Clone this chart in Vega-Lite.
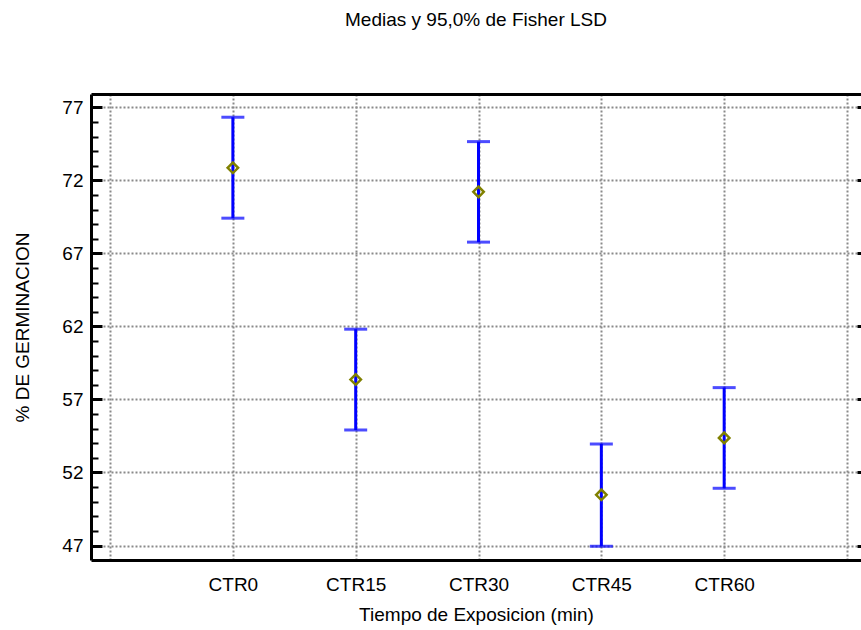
{
  "$schema": "https://vega.github.io/schema/vega-lite/v6.json",
  "autosize": "none",
  "padding": {"left": 91, "top": 94, "right": 0, "bottom": 70},
  "width": 770,
  "height": 466,
  "title": {"text": "Medias y 95,0% de Fisher LSD", "fontSize": 19, "font": "Liberation Sans", "fontWeight": "normal", "anchor": "middle", "baseline": "alphabetic", "offset": 49, "color": "black"},
  "config": {"view": {"stroke": null}, "font": "Liberation Sans"},
  "data": {"values": [
    {"group": "CTR0", "pos": 1, "mean": 72.86, "lower": 69.41, "upper": 76.32},
    {"group": "CTR15", "pos": 2, "mean": 58.36, "lower": 54.91, "upper": 61.81},
    {"group": "CTR30", "pos": 3, "mean": 71.21, "lower": 67.77, "upper": 74.65},
    {"group": "CTR45", "pos": 4, "mean": 50.47, "lower": 46.95, "upper": 53.95},
    {"group": "CTR60", "pos": 5, "mean": 54.37, "lower": 50.92, "upper": 57.81}
  ]},
  "layer": [
    {
      "mark": {"type": "rule", "color": "#0000ff", "strokeWidth": 3},
      "encoding": {
        "x": {"field": "pos", "type": "quantitative", "scale": {"domain": [-0.155, 6.114], "nice": false, "zero": false},
          "axis": {"values": [0, 1, 2, 3, 4, 5, 6], "labelExpr": "['', 'CTR0', 'CTR15', 'CTR30', 'CTR45', 'CTR60', ''][datum.value]",
            "ticks": false, "domain": true, "domainColor": "black", "domainWidth": 3,
            "grid": true, "gridColor": "#8a8a8a", "gridDash": [2, 2], "gridWidth": 2,
            "labelFontSize": 19, "labelColor": "black", "labelPadding": 15, "labelFont": "Liberation Sans",
            "title": "Tiempo de Exposicion (min)", "titleFontSize": 19, "titleFontWeight": "normal", "titleColor": "black", "titlePadding": 11, "titleFont": "Liberation Sans"}},
        "y": {"field": "lower", "type": "quantitative", "scale": {"domain": [46.01, 77.91], "nice": false, "zero": false},
          "axis": {"orient": "left", "values": [47, 48, 49, 50, 51, 52, 53, 54, 55, 56, 57, 58, 59, 60, 61, 62, 63, 64, 65, 66, 67, 68, 69, 70, 71, 72, 73, 74, 75, 76, 77],
            "domain": true, "domainColor": "black", "domainWidth": 3,
            "grid": true, "gridColor": "#8a8a8a", "gridDash": [2, 2], "gridWidth": 2,
            "gridOpacity": {"condition": {"test": "(datum.value - 47) % 5 === 0", "value": 1}, "value": 0},
            "tickColor": "black",
            "tickWidth": {"condition": {"test": "(datum.value - 47) % 5 === 0", "value": 3}, "value": 2},
            "tickSize": {"condition": {"test": "(datum.value - 47) % 5 === 0", "value": -11}, "value": -7},
            "labelExpr": "(datum.value - 47) % 5 === 0 ? datum.label : ''",
            "labelFontSize": 19, "labelColor": "black", "labelPadding": 19, "labelFont": "Liberation Sans",
            "title": "% DE GERMINACION", "titleFontSize": 19, "titleFontWeight": "normal", "titleColor": "black", "titlePadding": 29, "titleFont": "Liberation Sans"}},
        "y2": {"field": "upper"}
      }
    },
    {
      "mark": {"type": "tick", "orient": "horizontal", "color": "#0000ff", "thickness": 3, "size": 23},
      "encoding": {
        "x": {"field": "pos", "type": "quantitative", "scale": {"domain": [-0.155, 6.114], "nice": false, "zero": false}, "axis": null},
        "y": {"field": "lower", "type": "quantitative", "scale": {"domain": [46.01, 77.91], "nice": false, "zero": false}, "axis": null}
      }
    },
    {
      "mark": {"type": "tick", "orient": "horizontal", "color": "#0000ff", "thickness": 3, "size": 23},
      "encoding": {
        "x": {"field": "pos", "type": "quantitative", "scale": {"domain": [-0.155, 6.114], "nice": false, "zero": false}, "axis": null},
        "y": {"field": "upper", "type": "quantitative", "scale": {"domain": [46.01, 77.91], "nice": false, "zero": false}, "axis": null}
      }
    },
    {
      "mark": {"type": "point", "shape": "diamond", "filled": false, "color": "#808000", "strokeWidth": 2.5, "size": 110, "opacity": 1},
      "encoding": {
        "x": {"field": "pos", "type": "quantitative", "scale": {"domain": [-0.155, 6.114], "nice": false, "zero": false},
          "axis": {"orient": "top", "values": [], "labels": false, "ticks": false, "grid": false, "domain": true, "domainColor": "black", "domainWidth": 3, "title": null}},
        "y": {"field": "mean", "type": "quantitative", "scale": {"domain": [46.01, 77.91], "nice": false, "zero": false},
          "axis": {"orient": "right", "values": [47, 52, 57, 62, 67, 72, 77], "labels": false, "domain": false, "grid": false, "tickColor": "black", "tickWidth": 3, "tickSize": -4, "title": null}}
      }
    }
  ],
  "resolve": {"scale": {"x": "independent", "y": "independent"}}
}
